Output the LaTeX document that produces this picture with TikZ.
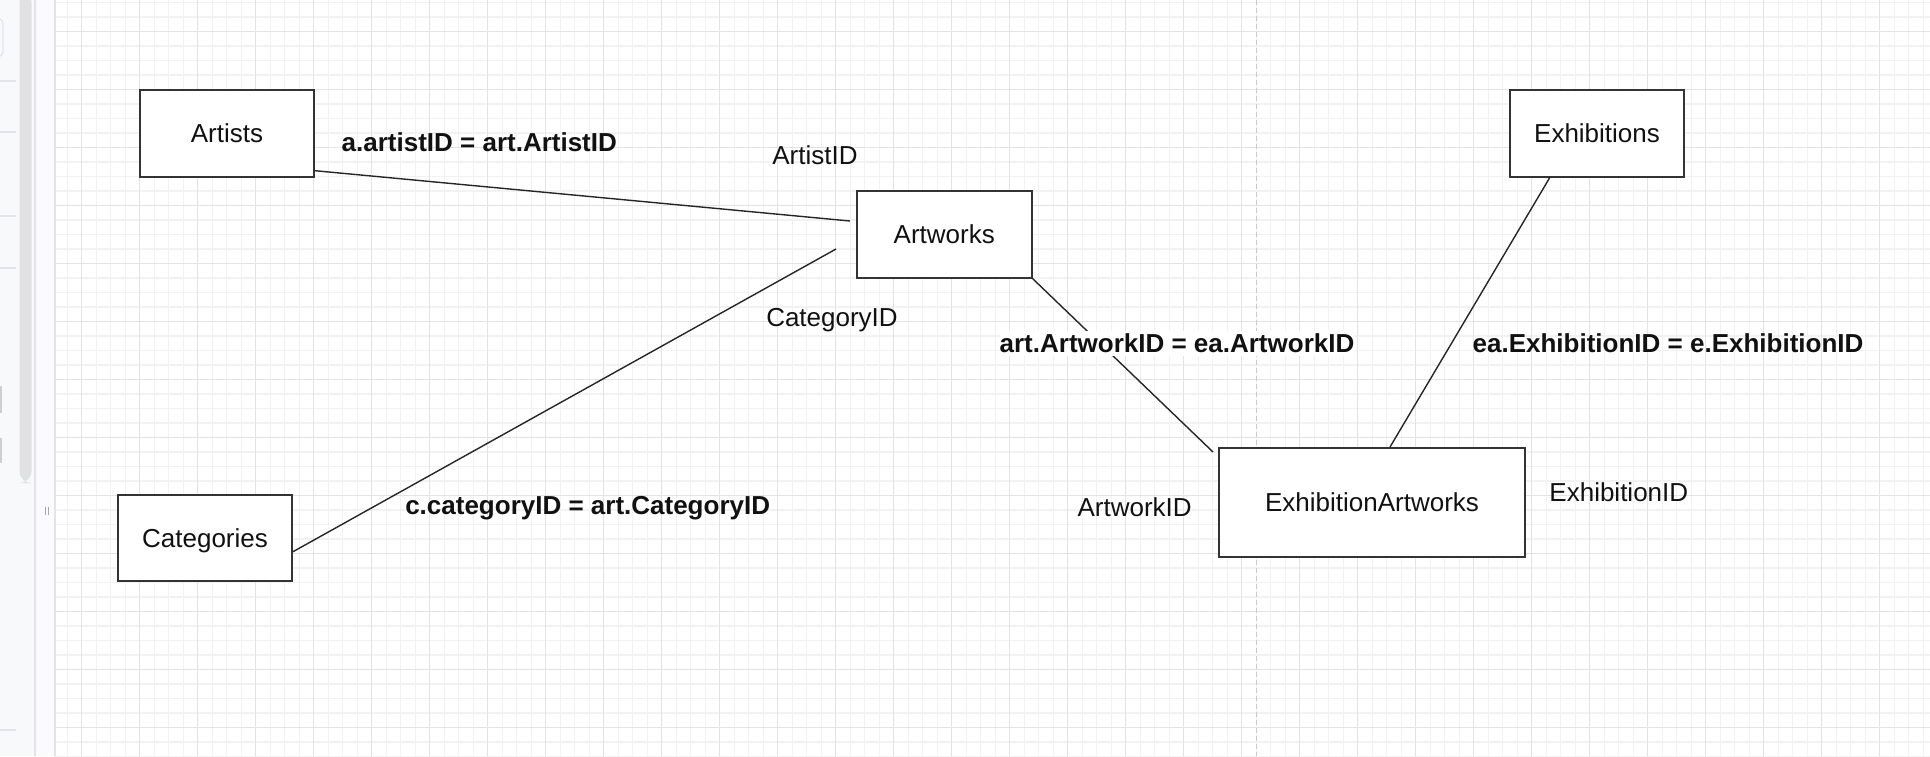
\documentclass[tikz,border=0pt]{standalone}
\usepackage{fontspec}
\setmainfont{Liberation Sans}
\definecolor{panel}{HTML}{F8F9FB}
\definecolor{panelb}{HTML}{FBFBFD}
\definecolor{panelline}{HTML}{E3E4E8}
\definecolor{scroll}{HTML}{E1E1E3}
\definecolor{gridminor}{HTML}{F2F2F2}
\definecolor{gridmajor}{HTML}{E3E3E3}
\definecolor{dashc}{HTML}{C9C9C9}
\definecolor{boxc}{HTML}{333333}
\definecolor{linec}{HTML}{262626}
\definecolor{txt}{HTML}{111111}
\begin{document}
\begin{tikzpicture}[x=0.5pt,y=-0.5pt,
  entity/.style={draw=boxc, line width=1pt, fill=white, inner sep=0pt,
    font=\fontsize{13}{15}\selectfont, text=txt, text height=9.3pt, text depth=0pt},
  rel/.style={draw=linec, line width=0.7pt},
  lbl/.style={inner sep=0pt, font=\fontsize{13}{15}\selectfont, text=txt,
    text height=9.3pt, text depth=0pt},
  blbl/.style={lbl, font=\fontsize{13}{15}\selectfont\bfseries},
  minorg/.style={draw=gridminor, line width=0.7pt},
  majorg/.style={draw=gridmajor, line width=0.75pt},
  sideline/.style={draw=panelline, line width=0.6pt}]
\useasboundingbox (0,0) rectangle (1930,756);
% canvas
\fill[white] (0,0) rectangle (1930,756);
% grid
\foreach \j in {-1,...,128} {
  \pgfmathsetmacro\xx{81.7+14.5*\j}
  \draw[minorg] (\xx,0) -- (\xx,756);
}
\foreach \j in {-2,...,50} {
  \pgfmathsetmacro\yy{31.4+14.5*\j}
  \draw[minorg] (55,\yy) -- (1930,\yy);
}
\foreach \k in {0,...,32} {
  \pgfmathsetmacro\xx{81.7+58*\k}
  \draw[majorg] (\xx,0) -- (\xx,756);
}
\foreach \k in {0,...,12} {
  \pgfmathsetmacro\yy{31.4+58*\k}
  \draw[majorg] (55,\yy) -- (1930,\yy);
}
% dashed page break
\draw[dashc, line width=0.75pt, dash pattern=on 2.5pt off 1.5pt] (1256.5,0) -- (1256.5,756);
% left side panel
\fill[panel] (0,0) rectangle (35,756);
\fill[panelb] (35,0) rectangle (55,756);
\draw[sideline] (35,0) -- (35,756);
\draw[sideline] (55,0) -- (55,756);
\fill[scroll, rounded corners=6pt] (19.5,-10) rectangle (31.5,483);
\draw[draw=panelline, line width=0.6pt, rounded corners=3pt] (-10,18) rectangle (3,57);
\foreach \yy in {81,132,216,268,730} { \draw[sideline] (0,\yy) -- (16,\yy); }
\fill[gridmajor!80!gray] (0,386) rectangle (1.5,413);
\fill[gridmajor!80!gray] (0,438) rectangle (1.5,463);
\draw[gray!70, line width=0.6pt] (45.5,507) -- (45.5,515);
\draw[gray!70, line width=0.6pt] (48.5,507) -- (48.5,515);
% entities
\node[entity, minimum width=87pt, minimum height=43.5pt] (artists) at (227,133) {Artists};
\node[entity, minimum width=87pt, minimum height=43.5pt] (exhibitions) at (1597,133) {Exhibitions};
\node[entity, minimum width=87.25pt, minimum height=43.25pt] (artworks) at (944.25,234.25) {Artworks};
\node[entity, minimum width=87pt, minimum height=43pt] (categories) at (205,538) {Categories};
\node[entity, minimum width=153pt, minimum height=54.25pt] (exart) at (1372,502.25) {ExhibitionArtworks};
% free ends
\coordinate (e1) at (850,221);
\coordinate (e2) at (836,249);
\coordinate (e3) at (1213,452);
% connectors
\draw[rel] ([yshift=3.4pt]artists.south east) -- (e1);
\draw[rel] ([yshift=-6.85pt]categories.east) -- (e2);
\draw[rel] (artworks.south east) -- (e3);
\draw[rel] ([xshift=-23.6pt]exhibitions.south) -- ([xshift=9.0pt]exart.north);
% labels
\node[blbl] (l1) at (479.3,141.7) {a.artistID = art.ArtistID};
\node[lbl] (l2) at (815,154.7) {ArtistID};
\node[lbl] (l3) at (832,317.5) {CategoryID};
\node[blbl, fill=white, inner xsep=0pt, inner ysep=1.5pt] (l4) at (1177,343.2) {art.ArtworkID = ea.ArtworkID};
\node[blbl] (l5) at (1668,343) {ea.ExhibitionID = e.ExhibitionID};
\node[blbl] (l6) at (587.7,505) {c.categoryID = art.CategoryID};
\node[lbl] (l7) at (1134.6,506.7) {ArtworkID};
\node[lbl] (l8) at (1618.8,491.7) {ExhibitionID};
\end{tikzpicture}
\end{document}
